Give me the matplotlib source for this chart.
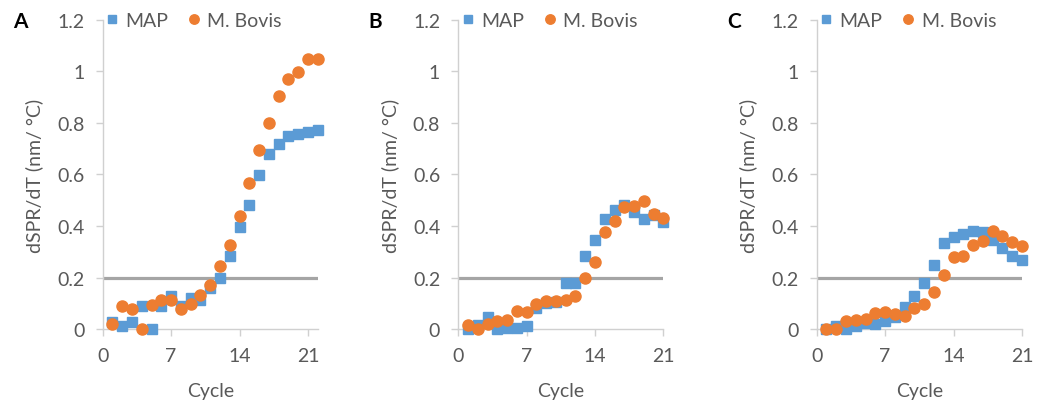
import matplotlib

matplotlib.use("Agg")
import matplotlib.pyplot as plt
from matplotlib.ticker import FuncFormatter

BLUE, ORANGE, GRAY = "#5b9bd5", "#ed7d31", "#a5a5a5"
INK, AXIS = "#595959", "#d0d0d0"
plt.rcParams["font.family"] = ["Lato", "DejaVu Sans"]

# Panel A (ciclos 1-22)
cycles_a = list(range(1, 23))
map_a = [0.028, 0.013, 0.028, 0.09, 0.0, 0.09, 0.13, 0.088, 0.12, 0.114, 0.16,
         0.20, 0.283, 0.397, 0.48, 0.598, 0.678, 0.717, 0.75, 0.757, 0.766, 0.774]
bovis_a = [0.018, 0.09, 0.078, 0.0, 0.094, 0.111, 0.111, 0.078, 0.097, 0.132, 0.171,
           0.243, 0.327, 0.437, 0.567, 0.696, 0.799, 0.906, 0.97, 0.997, 1.049, 1.049]

# Panel B (ciclos 1-21)
cycles_b = list(range(1, 22))
map_b = [0.0, 0.016, 0.045, 0.0, 0.005, 0.005, 0.012, 0.08, 0.10, 0.106, 0.177,
         0.177, 0.285, 0.344, 0.426, 0.461, 0.48, 0.456, 0.426, 0.443, 0.414]
bovis_b = [0.016, 0.0, 0.02, 0.03, 0.035, 0.069, 0.065, 0.097, 0.107, 0.107, 0.113,
           0.13, 0.197, 0.259, 0.375, 0.42, 0.472, 0.476, 0.498, 0.447, 0.43]

# Panel C (ciclos 1-21)
cycles_c = list(range(1, 22))
map_c = [0.0, 0.01, 0.0, 0.01, 0.023, 0.02, 0.032, 0.048, 0.084, 0.13, 0.179,
         0.25, 0.335, 0.356, 0.369, 0.382, 0.375, 0.347, 0.313, 0.285, 0.267]
bovis_c = [0.0, 0.0, 0.03, 0.035, 0.039, 0.061, 0.067, 0.057, 0.049, 0.08, 0.097,
           0.145, 0.21, 0.278, 0.282, 0.326, 0.343, 0.382, 0.36, 0.337, 0.321]

THRESHOLD = 0.2
panels = [("A", cycles_a, map_a, bovis_a, 22, 0.0982),
          ("B", cycles_b, map_b, bovis_b, 21, 0.4381),
          ("C", cycles_c, map_c, bovis_c, 21, 0.7808)]
x_ticks = [0, 7, 14, 21]
y_ticks = [0, 0.2, 0.4, 0.6, 0.8, 1, 1.2]

fig = plt.figure(figsize=(10.46, 4.02), dpi=100, facecolor="white")
for letra, x, m, b, xmax, left in panels:
    width = 0.2055 * xmax / 22
    ax = fig.add_axes([left, 0.179, width, 0.769])
    ax.axhline(THRESHOLD, color=GRAY, lw=2.3, zorder=1)
    ax.plot(x, m, ls="none", marker="s", ms=7.4, color=BLUE, mec=BLUE, label="MAP",
            clip_on=False, zorder=3)
    ax.plot(x, b, ls="none", marker="o", ms=8.0, color=ORANGE, mec=ORANGE, label="M. Bovis",
            clip_on=False, zorder=4)
    ax.set_xlim(0, xmax)
    ax.set_ylim(0, 1.2)
    ax.set_xticks(x_ticks)
    ax.set_yticks(y_ticks)
    ax.yaxis.set_major_formatter(FuncFormatter(lambda v, _: f"{v:g}"))
    ax.tick_params(colors=AXIS, labelcolor=INK, labelsize=14, length=5, width=1, pad=8)
    for s in ("top", "right"):
        ax.spines[s].set_visible(False)
    for s in ("left", "bottom"):
        ax.spines[s].set_color(AXIS)
        ax.spines[s].set_linewidth(1)
    ax.set_xlabel("Cycle", color=INK, fontsize=14, labelpad=13)
    ax.set_ylabel("dSPR/dT (nm/ °C)", color=INK, fontsize=14, labelpad=10)
    ax.legend(loc="lower left", bbox_to_anchor=(-0.03, 0.94), ncol=2, frameon=False,
              fontsize=14, labelcolor=INK, handlelength=0.6, handletextpad=0.4,
              columnspacing=1.0, borderpad=0, markerscale=0.85)
    fig.text(left - 0.086, 0.945, letra, fontsize=15, fontweight="bold", color="black",
             ha="left", va="center")

fig.savefig("out.png", dpi=100)
